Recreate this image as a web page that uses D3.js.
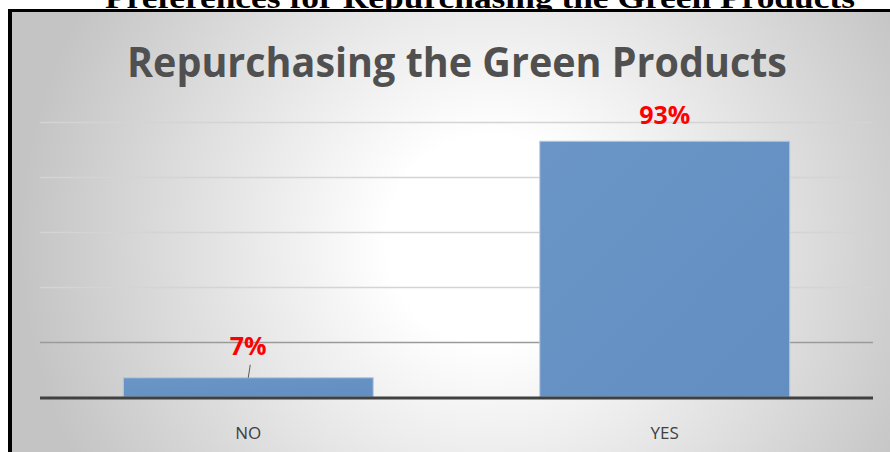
<!DOCTYPE html>
<html>
<head>
<meta charset="utf-8">
<script src="https://cdn.jsdelivr.net/npm/d3@7"></script>
<style>
  html, body { margin: 0; padding: 0; background: #ffffff; overflow: hidden; }
  svg { display: block; }
</style>
</head>
<body>
<svg id="chart" width="890" height="452"></svg>
<script>
// Survey answers: would respondents buy green products again?
const categories = ["NO", "YES"];
const shares = [7, 93];              // percent of respondents
const valueLabels = ["7%", "93%"];
const gridTicks = [0, 20, 40, 60, 80, 100];

const pageTitle = "Preferences for Repurchasing the Green Products";
const chartTitle = "Repurchasing the Green Products";

const svg = d3.select("#chart");
const W = 890, H = 452;

// Frame of the embedded chart
const frame = { x: 8, y: 9 };
const plot = { left: 40, right: 873, top: 122, bottom: 397 };

const defs = svg.append("defs");
const bg = defs.append("radialGradient")
  .attr("id", "bgGrad")
  .attr("gradientUnits", "userSpaceOnUse")
  .attr("cx", 490).attr("cy", 240).attr("r", 470);
bg.append("stop").attr("offset", "0%").attr("stop-color", "#ffffff");
bg.append("stop").attr("offset", "22%").attr("stop-color", "#ffffff");
bg.append("stop").attr("offset", "100%").attr("stop-color", "#c4c4c4");

const barGrad = defs.append("linearGradient")
  .attr("id", "barGrad")
  .attr("x1", 0).attr("y1", 0).attr("x2", 1).attr("y2", 1);
barGrad.append("stop").attr("offset", "0%").attr("stop-color", "#6a95c6");
barGrad.append("stop").attr("offset", "100%").attr("stop-color", "#628ec2");

// Page heading, partially cut off by the top of the page
const heading = svg.append("text")
  .attr("x", 480).attr("y", 8)
  .attr("text-anchor", "middle")
  .attr("font-family", "'Liberation Serif', 'Times New Roman', serif")
  .attr("font-weight", "bold")
  .attr("font-size", 29)
  .attr("fill", "#000")
  .attr("textLength", 750)
  .attr("lengthAdjust", "spacingAndGlyphs")
  .text(pageTitle);

// Chart area background and border
svg.append("rect")
  .attr("x", frame.x).attr("y", frame.y)
  .attr("width", W).attr("height", H)
  .attr("fill", "#000");
svg.append("rect")
  .attr("x", frame.x + 4).attr("y", frame.y + 3)
  .attr("width", W).attr("height", H)
  .attr("fill", "url(#bgGrad)");

// Scales
const x = d3.scaleBand()
  .domain(categories)
  .range([plot.left, plot.right])
  .paddingInner(0.4)
  .paddingOuter(0.2);

const y = d3.scaleLinear()
  .domain([0, 100])
  .range([plot.bottom, plot.top]);

// Gridlines
svg.append("g")
  .selectAll("line")
  .data(gridTicks.filter(t => t > 0))
  .join("line")
  .attr("x1", plot.left).attr("x2", plot.right)
  .attr("y1", d => y(d) + 0.5).attr("y2", d => y(d) + 0.5)
  .attr("stroke", d => d === 20 ? "#9a9a9a" : "#d4d4d4")
  .attr("stroke-width", 1.3);

// Title
svg.append("text")
  .attr("x", 457).attr("y", 77)
  .attr("text-anchor", "middle")
  .attr("font-family", "'Open Sans', 'Noto Sans', sans-serif")
  .attr("font-weight", "bold")
  .attr("font-size", 41)
  .attr("fill", "#505050")
  .attr("textLength", 660)
  .attr("lengthAdjust", "spacingAndGlyphs")
  .text(chartTitle);

// Bars
svg.append("g")
  .selectAll("rect")
  .data(categories)
  .join("rect")
  .attr("x", d => x(d))
  .attr("y", (d, i) => y(shares[i]))
  .attr("width", x.bandwidth())
  .attr("height", (d, i) => y(0) - y(shares[i]))
  .attr("fill", "url(#barGrad)")
  .attr("stroke", "#b4c8e2")
  .attr("stroke-width", 1);

// Baseline axis
svg.append("line")
  .attr("x1", plot.left).attr("x2", plot.right)
  .attr("y1", plot.bottom + 1).attr("y2", plot.bottom + 1)
  .attr("stroke", "#404040")
  .attr("stroke-width", 3);

// Category labels
const xAxis = d3.axisBottom(x).tickSize(0).tickPadding(0);
const gx = svg.append("g")
  .attr("transform", `translate(0, ${plot.bottom})`)
  .call(xAxis);
gx.select(".domain").remove();
gx.selectAll("text")
  .attr("y", 42)
  .attr("dy", 0)
  .attr("font-family", "'Open Sans', 'Noto Sans', sans-serif")
  .attr("font-size", 17)
  .attr("fill", "#404040");

// Leader line for the small bar's label
const noX = x("NO") + x.bandwidth() / 2;
svg.append("line")
  .attr("x1", noX + 2).attr("y1", y(shares[0]) - 13)
  .attr("x2", noX).attr("y2", y(shares[0]))
  .attr("stroke", "#595959")
  .attr("stroke-width", 1);

// Value labels
const labelOffsets = [23, 17];
svg.append("g")
  .selectAll("text")
  .data(categories)
  .join("text")
  .attr("x", d => x(d) + x.bandwidth() / 2)
  .attr("y", (d, i) => y(shares[i]) - labelOffsets[i])
  .attr("text-anchor", "middle")
  .attr("font-family", "'Open Sans', 'Noto Sans', sans-serif")
  .attr("font-weight", "bold")
  .attr("font-size", 25)
  .attr("fill", "#ff0000")
  .text((d, i) => valueLabels[i]);
</script>
</body>
</html>
